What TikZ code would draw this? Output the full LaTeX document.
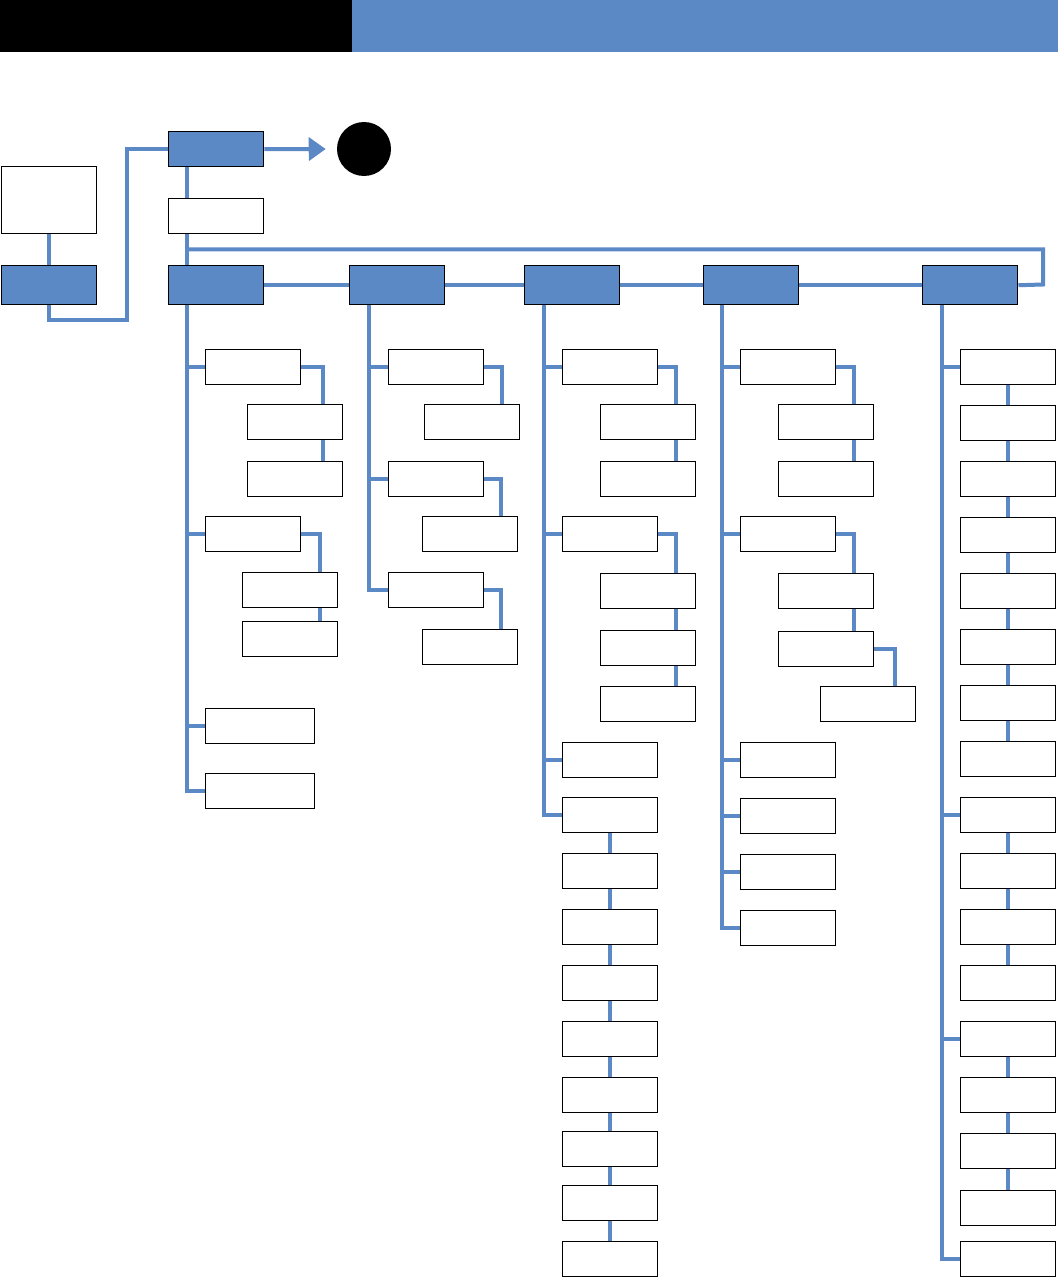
\documentclass[tikz,border=0pt]{standalone}
\usepackage{xcolor}
\usepackage{tikz}
\usetikzlibrary{arrows.meta,positioning}
\definecolor{hblue}{RGB}{91,137,198}
\tikzset{
  box/.style={rectangle,draw=black,line width=1.1pt,fill=white,anchor=north west,
              minimum width=71.25pt,minimum height=26.25pt,inner sep=0pt},
  headbox/.style={box,fill=hblue,minimum height=29.25pt},
  widebox/.style={box,minimum width=81.75pt},
  dot/.style={circle,fill=black,minimum size=40.5pt,inner sep=0pt},
  link/.style={hblue,line width=3pt},
  arrowlink/.style={-{Triangle[length=12.75pt,width=17.25pt]},hblue,line width=3pt},
}
\begin{document}
\begin{tikzpicture}[x=0.75pt,y=-0.75pt]
  \useasboundingbox (0,0) rectangle (1058,1277);
  % header bar
  \fill[black] (0,0) rectangle (352,52);
  \fill[hblue] (352,0) rectangle (1058,52);
  % start and root
  \node[box,minimum height=50.25pt] (start) at (1,166) {};
  \node[headbox] (startb) at (1,265) {};
  \node[headbox,minimum height=26.25pt] (root) at (168,131) {};
  \node[dot] (stop) at (364,149) {};
  \node[box] (sub) at (168,198) {};
  % main row
  \node[headbox] (b1) at (168,265) {};
  \node[headbox] (b2) at (349,265) {};
  \node[headbox] (b3) at (524,265) {};
  \node[headbox] (b4) at (703,265) {};
  \node[headbox] (b5) at (922,265) {};
  \coordinate (t1) at ([xshift=14.5pt]b1.south west);
  \coordinate (t2) at ([xshift=15pt]b2.south west);
  \coordinate (t3) at ([xshift=15pt]b3.south west);
  \coordinate (t4) at ([xshift=14.5pt]b4.south west);
  \coordinate (t5) at ([xshift=15pt]b5.south west);
  % column 1
  \node[box] (c1a) at (205,349) {};
  \node[box] (c1a1) at (247,404) {};
  \node[box] (c1a2) at (247,461) {};
  \node[box] (c1b) at (205,516) {};
  \node[box] (c1b1) at (242,572) {};
  \node[box] (c1b2) at (242,621) {};
  \node[widebox] (c1c) at (205,708) {};
  \node[widebox] (c1d) at (205,773) {};
  % column 2
  \node[box] (c2a) at (388,349) {};
  \node[box] (c2a1) at (424,404) {};
  \node[box] (c2b) at (388,461) {};
  \node[box] (c2b1) at (422,516) {};
  \node[box] (c2c) at (388,572) {};
  \node[box] (c2c1) at (422,629) {};
  % column 3
  \node[box] (c3a) at (562,349) {};
  \node[box] (c3a1) at (600,404) {};
  \node[box] (c3a2) at (600,461) {};
  \node[box] (c3b) at (562,516) {};
  \node[box] (c3b1) at (600,573) {};
  \node[box] (c3b2) at (600,630) {};
  \node[box] (c3b3) at (600,686) {};
  \node[box] (c3c) at (562,742) {};
  \node[box] (c3d) at (562,797) {};
  \node[box] (c3e) at (562,853) {};
  \node[box] (c3f) at (562,909) {};
  \node[box] (c3g) at (562,965) {};
  \node[box] (c3h) at (562,1021) {};
  \node[box] (c3i) at (562,1077) {};
  \node[box] (c3j) at (562,1131) {};
  \node[box] (c3k) at (562,1185) {};
  \node[box] (c3l) at (562,1241) {};
  % column 4
  \node[box] (c4a) at (740,349) {};
  \node[box] (c4a1) at (778,404) {};
  \node[box] (c4a2) at (778,461) {};
  \node[box] (c4b) at (740,516) {};
  \node[box] (c4b1) at (778,573) {};
  \node[box] (c4b2) at (778,631) {};
  \node[box] (c4b2a) at (820,686) {};
  \node[box] (c4c) at (740,742) {};
  \node[box] (c4d) at (740,798) {};
  \node[box] (c4e) at (740,854) {};
  \node[box] (c4f) at (740,910) {};
  % column 5
  \node[box] (c5a) at (960,349) {};
  \node[box] (c5b) at (960,405) {};
  \node[box] (c5c) at (960,461) {};
  \node[box] (c5d) at (960,517) {};
  \node[box] (c5e) at (960,573) {};
  \node[box] (c5f) at (960,629) {};
  \node[box] (c5g) at (960,685) {};
  \node[box] (c5h) at (960,741) {};
  \node[box] (c5i) at (960,797) {};
  \node[box] (c5j) at (960,853) {};
  \node[box] (c5k) at (960,909) {};
  \node[box] (c5l) at (960,965) {};
  \node[box] (c5m) at (960,1021) {};
  \node[box] (c5n) at (960,1077) {};
  \node[box] (c5o) at (960,1133) {};
  \node[box] (c5p) at (960,1190) {};
  \node[box] (c5q) at (960,1241) {};
  % top links
  \draw[link] (start) -- (startb);
  \draw[link] (startb.south) |- (127,320) |- (root.west);
  \draw[arrowlink,shorten >=8.25pt] (root.east) -- (stop.west);
  \draw[link] ([xshift=14.5pt]root.south west) -- ([xshift=14.5pt]sub.north west);
  \draw[link] ([xshift=14.5pt]sub.south west) -- ([xshift=14.5pt]b1.north west);
  \draw[link] ([xshift=14.5pt]sub.south west) ++(0,15) -| (1043,284.5) -- (b5.east);
  \draw[link] (b1) -- (b2);
  \draw[link] (b2) -- (b3);
  \draw[link] (b3) -- (b4);
  \draw[link] (b4) -- (b5);
  % column 1 links
  \draw[link] (t1) |- (c1a.west);
  \draw[link] (t1) |- (c1b.west);
  \draw[link] (t1) |- (c1c.west);
  \draw[link] (t1) |- (c1d.west);
  \draw[link] (c1a.east) -| ([xshift=-15pt]c1a1.north east);
  \draw[link] ([xshift=-15pt]c1a1.south east) -- ([xshift=-15pt]c1a2.north east);
  \draw[link] (c1b.east) -| ([xshift=-14pt]c1b1.north east);
  \draw[link] ([xshift=-14pt]c1b1.south east) -- ([xshift=-14pt]c1b2.north east);
  % column 2 links
  \draw[link] (t2) |- (c2a.west);
  \draw[link] (t2) |- (c2b.west);
  \draw[link] (t2) |- (c2c.west);
  \draw[link] (c2a.east) -| ([xshift=-14pt]c2a1.north east);
  \draw[link] (c2b.east) -| ([xshift=-13pt]c2b1.north east);
  \draw[link] (c2c.east) -| ([xshift=-13pt]c2c1.north east);
  % column 3 links
  \draw[link] (t3) |- (c3a.west);
  \draw[link] (t3) |- (c3b.west);
  \draw[link] (t3) |- (c3c.west);
  \draw[link] (t3) |- (c3d.west);
  \draw[link] (c3a.east) -| ([xshift=-15pt]c3a1.north east);
  \draw[link] ([xshift=-15pt]c3a1.south east) -- ([xshift=-15pt]c3a2.north east);
  \draw[link] (c3b.east) -| ([xshift=-15pt]c3b1.north east);
  \draw[link] ([xshift=-15pt]c3b1.south east) -- ([xshift=-15pt]c3b2.north east);
  \draw[link] ([xshift=-15pt]c3b2.south east) -- ([xshift=-15pt]c3b3.north east);
  \draw[link] (c3d) -- (c3e);
  \draw[link] (c3e) -- (c3f);
  \draw[link] (c3f) -- (c3g);
  \draw[link] (c3g) -- (c3h);
  \draw[link] (c3h) -- (c3i);
  \draw[link] (c3i) -- (c3j);
  \draw[link] (c3j) -- (c3k);
  \draw[link] (c3k) -- (c3l);
  % column 4 links
  \draw[link] (t4) |- (c4a.west);
  \draw[link] (t4) |- (c4b.west);
  \draw[link] (t4) |- (c4c.west);
  \draw[link] (t4) |- (c4d.west);
  \draw[link] (t4) |- (c4e.west);
  \draw[link] (t4) |- (c4f.west);
  \draw[link] (c4a.east) -| ([xshift=-15pt]c4a1.north east);
  \draw[link] ([xshift=-15pt]c4a1.south east) -- ([xshift=-15pt]c4a2.north east);
  \draw[link] (c4b.east) -| ([xshift=-15pt]c4b1.north east);
  \draw[link] ([xshift=-15pt]c4b1.south east) -- ([xshift=-15pt]c4b2.north east);
  \draw[link] (c4b2.east) -| ([xshift=-15.75pt]c4b2a.north east);
  % column 5 links
  \draw[link] (t5) |- (c5a.west);
  \draw[link] (t5) |- (c5i.west);
  \draw[link] (t5) |- (c5m.west);
  \draw[link] (t5) |- (c5q.west);
  \draw[link] (c5a) -- (c5b);
  \draw[link] (c5b) -- (c5c);
  \draw[link] (c5c) -- (c5d);
  \draw[link] (c5d) -- (c5e);
  \draw[link] (c5e) -- (c5f);
  \draw[link] (c5f) -- (c5g);
  \draw[link] (c5g) -- (c5h);
  \draw[link] (c5i) -- (c5j);
  \draw[link] (c5j) -- (c5k);
  \draw[link] (c5k) -- (c5l);
  \draw[link] (c5m) -- (c5n);
  \draw[link] (c5n) -- (c5o);
  \draw[link] (c5o) -- (c5p);
\end{tikzpicture}
\end{document}
